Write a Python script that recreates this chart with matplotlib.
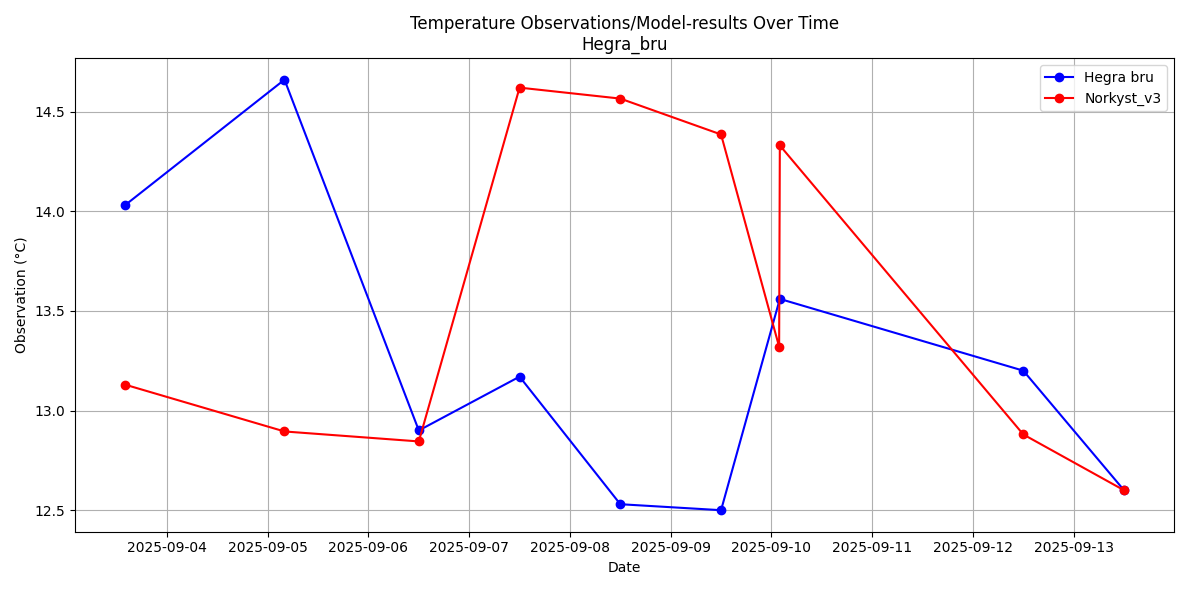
import matplotlib
matplotlib.use("Agg")
import matplotlib.pyplot as plt
import pandas as pd

obs_times = ["2025-09-03 14:00", "2025-09-05 04:00", "2025-09-06 12:00", "2025-09-07 12:00",
             "2025-09-08 12:00", "2025-09-09 12:00", "2025-09-10 02:00", "2025-09-12 12:00",
             "2025-09-13 12:00"]
obs_values = [14.03, 14.66, 12.90, 13.17, 12.53, 12.50, 13.56, 13.20, 12.60]

model_times = ["2025-09-03 14:00", "2025-09-05 04:00", "2025-09-06 12:00", "2025-09-07 12:00",
               "2025-09-08 12:00", "2025-09-09 12:00", "2025-09-10 01:50", "2025-09-10 02:00",
               "2025-09-12 12:00", "2025-09-13 12:00"]
model_values = [13.13, 12.895, 12.845, 14.62, 14.565, 14.385, 13.32, 14.33, 12.88, 12.60]

fig, ax = plt.subplots(figsize=(11.89, 5.9), dpi=100)
ax.plot(pd.to_datetime(obs_times), obs_values, "o-", color="blue", label="Hegra bru")
ax.plot(pd.to_datetime(model_times), model_values, "o-", color="red", label="Norkyst_v3")
ax.set_title("Temperature Observations/Model-results Over Time\nHegra_bru")
ax.set_xlabel("Date")
ax.set_ylabel("Observation (°C)")
ax.grid(True)
ax.legend()
fig.tight_layout()
fig.savefig("out.png")
